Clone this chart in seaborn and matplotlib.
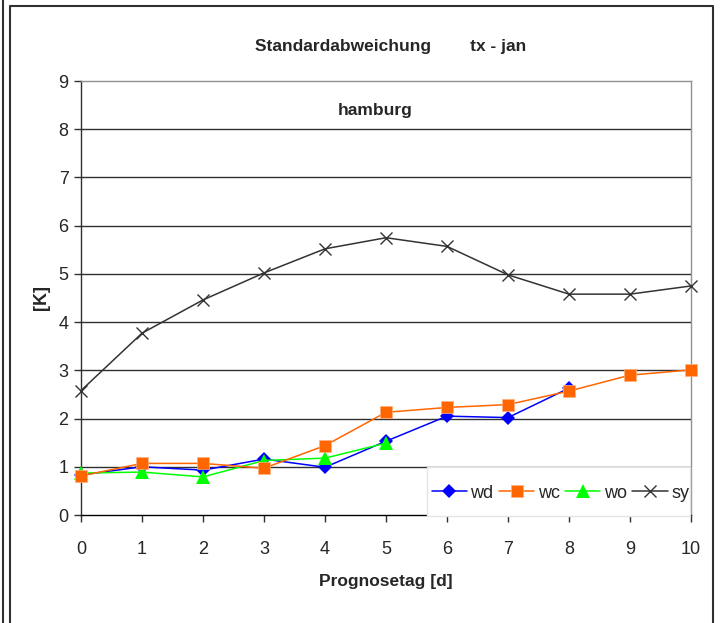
import matplotlib
matplotlib.use("Agg")
import matplotlib.pyplot as plt
from matplotlib.lines import Line2D
from matplotlib.patches import Rectangle
from matplotlib import font_manager
import seaborn as sns

# ---- data ----
days = [0, 1, 2, 3, 4, 5, 6, 7, 8, 9, 10]
wd_days = [0, 1, 2, 3, 4, 5, 6, 7, 8]
wd = [0.83, 1.00, 0.93, 1.16, 0.99, 1.53, 2.05, 2.02, 2.63]
wc = [0.81, 1.07, 1.07, 0.97, 1.44, 2.13, 2.23, 2.29, 2.57, 2.90, 3.01]
wo_days = [0, 1, 2, 3, 4, 5]
wo = [0.87, 0.89, 0.79, 1.13, 1.18, 1.49]
sy = [2.58, 3.77, 4.46, 5.02, 5.52, 5.75, 5.57, 4.98, 4.58, 4.58, 4.75]
y_ticks = [0, 1, 2, 3, 4, 5, 6, 7, 8, 9]
title_main = "Standardabweichung        tx - jan"
subtitle = "hamburg"
x_label = "Prognosetag [d]"
y_label = "[K]"

sns.set_theme(style="white")
plt.rcParams['font.family'] = ['Liberation Sans', 'DejaVu Sans']

installed = {f.name for f in font_manager.fontManager.ttflist}
if "Liberation Sans Narrow" in installed:
    bold_family = ["Liberation Sans Narrow", "Liberation Sans"]
    bsize = 14.5
else:
    bold_family = ["Liberation Sans", "DejaVu Sans"]
    bsize = 12.5

fig = plt.figure(figsize=(7.2, 6.23), dpi=100)
ax = fig.add_axes([81/720, 1-515/623, 610/720, 434/623])

sns.lineplot(x=days, y=sy, ax=ax, color="#333333", linewidth=1.1, marker="x",
             markersize=9, markeredgewidth=1.0, markeredgecolor="#333333",
             label="sy", clip_on=False, zorder=3)
sns.lineplot(x=wo_days, y=wo, ax=ax, color="#00FF00", linewidth=1.1, marker="^",
             markersize=10, markeredgewidth=0, label="wo", clip_on=False, zorder=4)
sns.lineplot(x=days, y=wc, ax=ax, color="#FF6600", linewidth=1.1, marker="s",
             markersize=9, markeredgewidth=0.5, markeredgecolor="#FFB080",
             label="wc", clip_on=False, zorder=5)
sns.lineplot(x=wd_days, y=wd, ax=ax, color="#0000FF", linewidth=1.1, marker="D",
             markersize=7, markeredgewidth=0, label="wd", clip_on=False, zorder=3.5)

ax.set_xlim(0, 10)
ax.set_ylim(0, 9)
ax.set_xticks(days)
ax.set_yticks(y_ticks)
ax.grid(False)
for yv in y_ticks[1:-1]:
    ax.axhline(yv, color="#303030", linewidth=1.0, zorder=1)

for s in ["top", "right"]:
    ax.spines[s].set_color("#909090")
    ax.spines[s].set_linewidth(1.0)
ax.spines["left"].set_color("#303030")
ax.spines["bottom"].set_color("#000000")
ax.spines["left"].set_linewidth(1.0)
ax.spines["bottom"].set_linewidth(1.0)

ax.tick_params(axis="both", which="major", direction="out", length=5, width=1,
               color="#303030", labelsize=13, bottom=True, left=True)
ax.tick_params(axis="x", pad=14)
ax.tick_params(axis="y", pad=4)

ax.set_xlabel(x_label, fontsize=bsize, fontweight="bold", labelpad=11,
              family=bold_family)
ax.set_ylabel(y_label, fontsize=13, fontweight="bold", labelpad=6)

fig.text(391/720, 1-46/623, title_main, ha="center", va="center",
         fontsize=bsize, fontweight="bold", family=bold_family)
ax.text(0.482, 0.933, subtitle, transform=ax.transAxes, ha="center", va="center",
        fontsize=bsize, fontweight="bold", family=bold_family)

# legend background box (below the 1-gridline, covering the axis line)
box = Rectangle((427/720, 1-516/623), 263/720, 49/623, transform=fig.transFigure,
                facecolor="white", edgecolor="#E4E4E4", linewidth=1.0,
                zorder=9, clip_on=False)
ax.add_artist(box)

handles, labels = ax.get_legend_handles_labels()
order = ["wd", "wc", "wo", "sy"]
hmap = dict(zip(labels, handles))
leg = ax.legend([hmap[k] for k in order], order, loc="center right",
                bbox_to_anchor=(1.0, (515-493)/434), ncol=4, fontsize=13,
                frameon=False, handlelength=1.95, handletextpad=0.2,
                columnspacing=0.3, borderpad=0.1, borderaxespad=0)
leg.set_zorder(10)

# outer frame
fig.add_artist(Line2D([3/720, 3/720], [0, 1], transform=fig.transFigure,
                      color="#303030", linewidth=1.5))
fig.add_artist(Line2D([10/720, 10/720, 713/720, 713/720], [0, 1-6/623, 1-6/623, 0],
                      transform=fig.transFigure, color="#303030", linewidth=1.5))

fig.savefig("out.png", dpi=100)
